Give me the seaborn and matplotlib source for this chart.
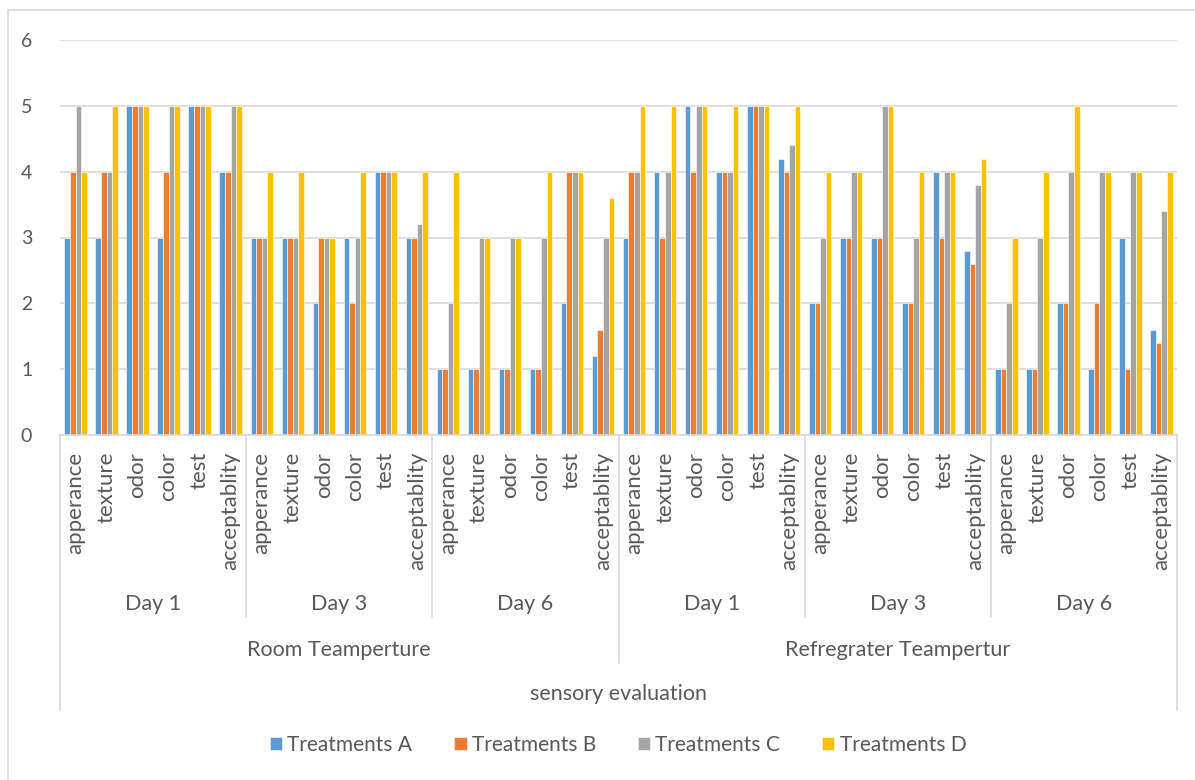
import numpy as np
import pandas as pd
import matplotlib
matplotlib.use("Agg")
import matplotlib.pyplot as plt
from matplotlib.lines import Line2D
from matplotlib.patches import Rectangle
import seaborn as sns

attributes = ["apperance", "texture", "odor", "color", "test", "acceptablity"]
days = ["Day 1", "Day 3", "Day 6"]
temps = ["Room Teamperture", "Refregrater Teampertur"]
treatments = ["Treatments A", "Treatments B", "Treatments C", "Treatments D"]

# scores per attribute, ordered room day1, day3, day6, fridge day1, day3, day6
treat_a = [3, 3, 5, 3, 5, 4,   3, 3, 2, 3, 4, 3,   1, 1, 1, 1, 2, 1.2,
           3, 4, 5, 4, 5, 4.2, 2, 3, 3, 2, 4, 2.8, 1, 1, 2, 1, 3, 1.6]
treat_b = [4, 4, 5, 4, 5, 4,   3, 3, 3, 2, 4, 3,   1, 1, 1, 1, 4, 1.6,
           4, 3, 4, 4, 5, 4,   2, 3, 3, 2, 3, 2.6, 1, 1, 2, 2, 1, 1.4]
treat_c = [5, 4, 5, 5, 5, 5,   3, 3, 3, 3, 4, 3.2, 2, 3, 3, 3, 4, 3,
           4, 4, 5, 4, 5, 4.4, 3, 4, 5, 3, 4, 3.8, 2, 3, 4, 4, 4, 3.4]
treat_d = [4, 5, 5, 5, 5, 5,   4, 4, 3, 4, 4, 4,   4, 3, 3, 4, 4, 3.6,
           5, 5, 5, 5, 5, 5,   4, 4, 5, 4, 4, 4.2, 3, 4, 5, 4, 4, 4]

colors = ["#5B9BD5", "#ED7D31", "#A5A5A5", "#FFC000"]
txt = "#595959"
grid = "#D9D9D9"

n = len(treat_a)
rows = []
for name, vals in zip(treatments, [treat_a, treat_b, treat_c, treat_d]):
    for i, v in enumerate(vals):
        rows.append({"pos": i, "treatment": name, "score": v})
df = pd.DataFrame(rows)

sns.set_style("white")
plt.rcParams["font.family"] = ["Lato", "DejaVu Sans"]

fig = plt.figure(figsize=(11.95, 7.8), dpi=100)
ax = fig.add_axes([60 / 1195, 1 - 435 / 780, (1177 - 60) / 1195, 395 / 780])

sns.barplot(data=df, x="pos", y="score", hue="treatment", hue_order=treatments,
            palette=colors, width=0.72, errorbar=None, ax=ax,
            edgecolor="white", linewidth=0.4, saturation=1)

ax.set_ylim(0, 6)
ax.set_xlim(-0.5, n - 0.5)
ax.set_yticks(range(7))
ax.set_yticklabels([str(i) for i in range(7)], fontsize=14, color=txt)
ax.set_xticks(range(n))
ax.set_xticklabels(attributes * 6, rotation=90, va="top", ha="center",
                   fontsize=16, color=txt)
ax.tick_params(axis="x", length=0, pad=12)
ax.tick_params(axis="y", length=0, pad=20)
ax.set_xlabel("")
ax.set_ylabel("")
ax.yaxis.grid(True, color=grid, linewidth=1.2)
ax.set_axisbelow(True)
for s in ["top", "right", "left"]:
    ax.spines[s].set_visible(False)
ax.spines["bottom"].set_color(grid)
ax.spines["bottom"].set_linewidth(1.2)

# multi-level category axis
tr = ax.get_xaxis_transform()
h = 395.0
def fy(py):
    return -(py - 435) / h

for k in range(7):
    xb = k * 6 - 0.5
    if k in (0, 6):
        y_end = fy(710)
    elif k == 3:
        y_end = fy(663)
    else:
        y_end = fy(617)
    ax.add_line(Line2D([xb, xb], [0, y_end], transform=tr, color=grid,
                       linewidth=1.2, clip_on=False))

for k in range(6):
    ax.text(k * 6 + 2.5, fy(604), days[k % 3], transform=tr, ha="center",
            va="center", fontsize=15.5, color=txt)
for k in range(2):
    ax.text(k * 18 + 8.5, fy(650), temps[k], transform=tr, ha="center",
            va="center", fontsize=15.5, color=txt)
ax.text((n - 1) / 2, fy(694), "sensory evaluation", transform=tr, ha="center",
        va="center", fontsize=15.5, color=txt)

handles, labels = ax.get_legend_handles_labels()
ax.get_legend().remove()
fig.legend(handles, labels, loc="center", bbox_to_anchor=(618 / 1195, 1 - 745 / 780),
           ncol=4, frameon=False, fontsize=15, labelcolor=txt,
           handlelength=0.6, handleheight=0.6, handletextpad=0.25,
           columnspacing=2.0)

fig.add_artist(Rectangle((8 / 1195, -0.1), 1.2, 1.1 - 10 / 780, fill=False,
                         edgecolor=grid, linewidth=1.2, transform=fig.transFigure))

fig.savefig("out.png", dpi=100)
